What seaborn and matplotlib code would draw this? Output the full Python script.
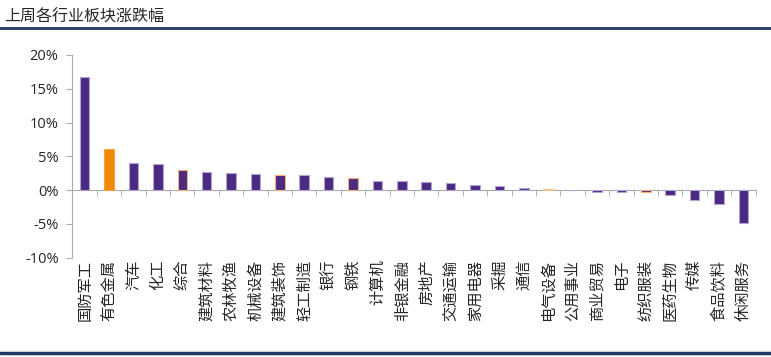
import matplotlib
matplotlib.use('Agg')
import matplotlib.pyplot as plt
import numpy as np
import seaborn as sns

# 上周各行业板块涨跌幅 (%)
industries = [u'国防军工', u'有色金属', u'汽车', u'化工', u'综合', u'建筑材料', u'农林牧渔',
              u'机械设备', u'建筑装饰', u'轻工制造', u'银行', u'钢铁', u'计算机', u'非银金融',
              u'房地产', u'交通运输', u'家用电器', u'采掘', u'通信', u'电气设备', u'公用事业',
              u'商业贸易', u'电子', u'纺织服装', u'医药生物', u'传媒', u'食品饮料', u'休闲服务']
changes = [16.7, 6.1, 4.0, 3.8, 2.95, 2.75, 2.6, 2.45, 2.3, 2.2, 1.97, 1.75, 1.33, 1.33,
           1.19, 0.99, 0.74, 0.59, 0.3, 0.1, 0.08, -0.3, -0.25, -0.3, -0.7, -1.48, -2.1, -4.9]
yticks = [-10, -5, 0, 5, 10, 15, 20]

purple = '#4B2A83'
orange = '#F08800'
orange_edge = ['综合', '建筑装饰', '钢铁', '纺织服装']
fills = [orange if n == u'有色金属' else purple for n in industries]
fills[industries.index(u'电气设备')] = '#F6C08A'

sns.set_style('white')
plt.rcParams['font.family'] = ['Noto Sans CJK SC', 'DejaVu Sans']

fig = plt.figure(figsize=(7.71, 3.57), dpi=100)
ax = fig.add_axes([0.094, 0.278, 0.886, 0.568])

sns.barplot(x=industries, y=changes, hue=industries, palette=fills, legend=False,
            width=0.39, saturation=1, ax=ax)
for name, p in zip(industries, ax.patches):
    if name in orange_edge:
        p.set_edgecolor('#F7B27A')
    elif name == u'有色金属':
        p.set_edgecolor('#F7A040')
    elif name == u'电气设备':
        p.set_edgecolor('#F6C08A')
    else:
        p.set_edgecolor('#B3A3D3')
    p.set_linewidth(0.8)

n = len(industries)
ax.set_xlim(-0.5, n - 0.5)
ax.set_ylim(-10, 20)
ax.set_yticks(yticks)
ax.set_yticklabels(['%d%%' % v for v in yticks], fontsize=10.5, family=['Open Sans', 'DejaVu Sans'])

for s in ['top', 'right']:
    ax.spines[s].set_visible(False)
ax.spines['left'].set_color('#AAAAAA')
ax.spines['bottom'].set_color('#AAAAAA')
ax.spines['bottom'].set_position(('data', 0))
ax.spines['bottom'].set_zorder(0)

ax.set_xticks(range(n))
ax.set_xticklabels(industries, rotation=90, fontsize=11, va='top')
ax.set_xticks(np.arange(-0.5, n), minor=True)
ax.tick_params(axis='x', which='major', length=0, pad=50)
ax.tick_params(axis='x', which='minor', length=4, color='#AAAAAA', direction='out', bottom=True)
ax.tick_params(axis='y', length=4, color='#AAAAAA', direction='out', left=True, pad=6)
ax.set_xlabel('')

fig.text(0.006, 0.952, u'上周各行业板块涨跌幅', fontsize=11.5, ha='left', va='center')
fig.add_artist(plt.Line2D([0, 1], [0.921, 0.921], color='#1F3864', lw=2, transform=fig.transFigure))
fig.add_artist(plt.Line2D([0, 1], [0.012, 0.012], color='#1F3864', lw=2.5, transform=fig.transFigure))

fig.savefig('out.png', dpi=100)
